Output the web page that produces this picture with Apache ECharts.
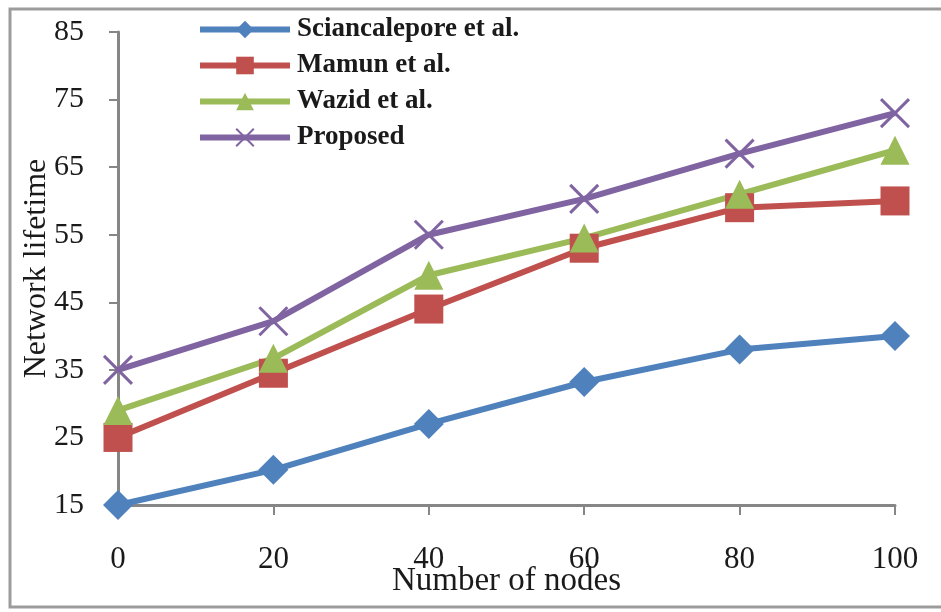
<!DOCTYPE html>
<html>
<head>
<meta charset="utf-8">
<script src="https://cdn.jsdelivr.net/npm/echarts@6/dist/echarts.min.js"></script>
<style>
  html, body { margin: 0; padding: 0; background: #fff; }
  #chart { width: 941px; height: 612px; }
</style>
</head>
<body>
<div id="chart"></div>
<script>
// Network lifetime against number of nodes for four schemes
const nodes = [0, 20, 40, 60, 80, 100];
const sciancalepore = [15, 20.2, 27, 33.2, 38, 40];
const mamun = [25, 34.5, 44, 53, 59, 60];
const wazid = [29, 36.7, 49, 54.5, 61, 67.5];
const proposed = [35, 42.2, 55, 60.3, 67, 73];

const seriesNames = ['Sciancalepore et al.', 'Mamun et al.', 'Wazid et al.', 'Proposed'];
const seriesColors = ['#4F81BD', '#C0504D', '#9BBB59', '#8064A2'];

const yTicks = [15, 25, 35, 45, 55, 65, 75, 85];

const serif = '"Liberation Serif", "DejaVu Serif", serif';
const crossPath = 'path://M0,0L10,10M10,0L0,10';

function pairs(values) {
  return nodes.map((n, i) => [n, values[i]]);
}

function lineSeries(name, values, color, symbol, size, extra) {
  return Object.assign({
    name: name,
    type: 'line',
    data: pairs(values),
    symbol: symbol,
    symbolSize: size,
    showAllSymbol: true,
    lineStyle: { color: color, width: 6 },
    itemStyle: { color: color },
    z: 3
  }, extra || {});
}

const chart = echarts.init(document.getElementById('chart'), null, { renderer: 'canvas' });

chart.setOption({
  animation: false,
  backgroundColor: '#ffffff',
  textStyle: { fontFamily: serif },
  graphic: [
    {
      type: 'rect',
      shape: { x: 10, y: 9, width: 945, height: 598 },
      style: { fill: 'none', stroke: '#9c9c9c', lineWidth: 3 },
      z: -1
    }
  ],
  grid: { left: 118, right: 46, top: 32, bottom: 107, containLabel: false, outerBoundsMode: 'none' },
  legend: {
    data: seriesNames,
    orient: 'vertical',
    left: 197,
    top: 16,
    itemWidth: 90,
    itemHeight: 22,
    itemGap: 9,
    lineStyle: { width: 6 },
    textStyle: { fontFamily: serif, fontSize: 27, fontWeight: 'bold', color: '#1a1a1a', padding: [0, 0, 0, 2] },
    padding: 0
  },
  xAxis: {
    type: 'value',
    min: 0,
    max: 100,
    interval: 20,
    name: 'Number of nodes',
    nameLocation: 'middle',
    nameGap: 60,
    nameMoveOverlap: false,
    nameTextStyle: { fontFamily: serif, fontSize: 33, color: '#1a1a1a' },
    axisLine: { lineStyle: { color: '#868686', width: 3 } },
    axisTick: { show: true, inside: false, length: 10, lineStyle: { color: '#868686', width: 2 } },
    axisLabel: { fontFamily: serif, fontSize: 31, color: '#1a1a1a', margin: 39 },
    splitLine: { show: false }
  },
  yAxis: {
    type: 'value',
    min: yTicks[0],
    max: yTicks[yTicks.length - 1],
    interval: 10,
    name: 'Network lifetime',
    nameLocation: 'middle',
    nameRotate: 90,
    nameGap: 65,
    nameMoveOverlap: false,
    nameTextStyle: { fontFamily: serif, fontSize: 32, color: '#1a1a1a' },
    axisLine: { show: true, lineStyle: { color: '#868686', width: 3 } },
    axisTick: { show: true, inside: false, length: 9, lineStyle: { color: '#868686', width: 2 } },
    axisLabel: { fontFamily: serif, fontSize: 30, color: '#1a1a1a', margin: 34 },
    splitLine: { show: false }
  },
  series: [
    lineSeries(seriesNames[0], sciancalepore, seriesColors[0], 'diamond', 30),
    lineSeries(seriesNames[1], mamun, seriesColors[1], 'rect', 29),
    lineSeries(seriesNames[2], wazid, seriesColors[2], 'triangle', 29),
    lineSeries(seriesNames[3], proposed, seriesColors[3], crossPath, 28, {
      itemStyle: { color: seriesColors[3], borderColor: seriesColors[3], borderWidth: 3 }
    })
  ]
});
</script>
</body>
</html>
